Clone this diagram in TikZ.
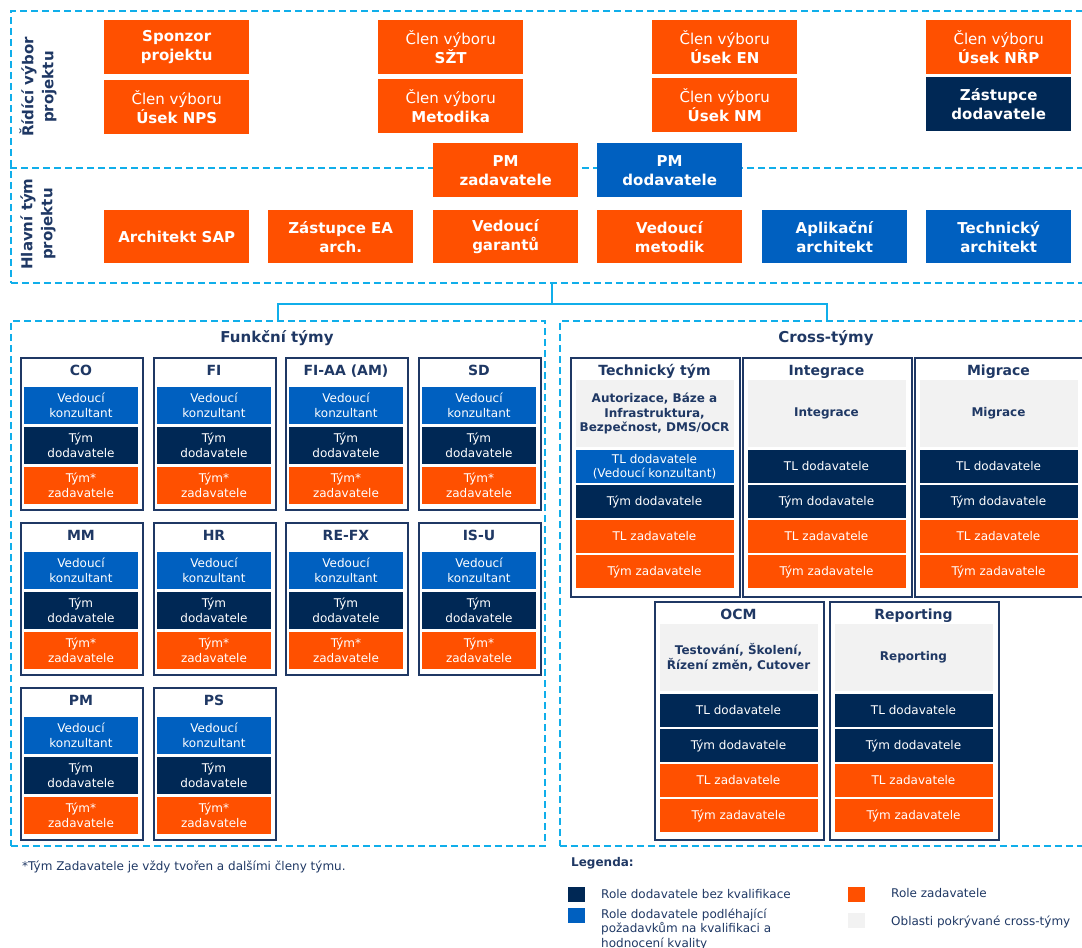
\documentclass[tikz,border=0pt]{standalone}
\usepackage{fontspec}
\setmainfont{DejaVu Sans}
\usetikzlibrary{calc}
\definecolor{cOr}{HTML}{FF5000}
\definecolor{cNavy}{HTML}{002855}
\definecolor{cBlue}{HTML}{0060C0}
\definecolor{cGray}{HTML}{F2F2F2}
\definecolor{cDash}{HTML}{10AEEA}
\definecolor{cBord}{HTML}{1F3864}
\definecolor{cText}{HTML}{1F3864}
\newcommand\fcard[4]{%
 \node[cardst, minimum width=122pt, minimum height=152pt] (#1) at (#2,#3) {};
 \node[ctitle, anchor=base] (#1-t) at (#2+61,#3+18) {#4};
 \node[fband, fill=cBlue] (#1-a) at (#2+61,#3+48.5) {Vedoucí\\konzultant};
 \node[fband, fill=cNavy] (#1-b) at (#2+61,#3+88.5) {Tým\\dodavatele};
 \node[fband, fill=cOr] (#1-c) at (#2+61,#3+128.5) {Tým*\\zadavatele};
}
\newcommand\ccard[8]{%
 \node[cardst, minimum width=169pt, minimum height=#8pt] (#1) at (#2,#3) {};
 \node[ctitle, anchor=base] (#1-t) at (#2+84.5,#3+18) {#4};
 \node[gband] (#1-g) at (#2+84.5,#3+56.5) {#5};
 \node[cband, fill=#6] (#1-a) at (#2+84.5,#3+109.5) {#7};
 \node[cband, fill=cNavy] (#1-b) at (#2+84.5,#3+144.5) {Tým dodavatele};
 \node[cband, fill=cOr] (#1-c) at (#2+84.5,#3+179.5) {TL zadavatele};
 \node[cband, fill=cOr] (#1-d) at (#2+84.5,#3+214.5) {Tým zadavatele};
}
\begin{document}
\begin{tikzpicture}[x=1pt,y=-1pt,
 box/.style={rectangle, inner sep=0pt, align=center, text=white, anchor=north west, minimum width=145pt, minimum height=54pt, font=\fontsize{15}{19}\selectfont},
 ob/.style={box, fill=cOr}, nb/.style={box, fill=cNavy}, bb/.style={box, fill=cBlue},
 dreg/.style={draw=cDash, line width=1.5pt, dash pattern=on 7pt off 4pt, rectangle, inner sep=0pt, anchor=north west},
 dln/.style={draw=cDash, line width=1.5pt, dash pattern=on 7pt off 4pt},
 conn/.style={draw=cDash, line width=2pt},
 sidelab/.style={rotate=90, align=center, text=cText, font=\bfseries\fontsize{15}{20}\selectfont},
 sectitle/.style={text=cText, font=\bfseries\fontsize{15}{18}\selectfont},
 cardst/.style={rectangle, draw=cBord, line width=2pt, fill=white, inner sep=0pt, anchor=north west},
 ctitle/.style={text=cText, font=\bfseries\fontsize{14}{17}\selectfont, inner sep=0pt},
 fband/.style={rectangle, inner sep=0pt, align=center, text=white, minimum width=114pt, minimum height=37pt, font=\fontsize{12}{15}\selectfont},
 cband/.style={rectangle, inner sep=0pt, align=center, text=white, minimum width=158pt, minimum height=33pt, font=\fontsize{12}{14}\selectfont},
 gband/.style={cband, fill=cGray, text=cText, minimum height=67pt, font=\bfseries\fontsize{12}{14.5}\selectfont},
 legsq/.style={rectangle, inner sep=0pt, minimum width=17pt, minimum height=15pt, anchor=north west},
 legtx/.style={anchor=base west, inner sep=0pt, text=cText, align=left, font=\fontsize{12}{14.5}\selectfont}
]
\useasboundingbox (0,0) rectangle (1082,948);
% regions
\node[dreg, minimum width=1082pt, minimum height=272pt] (topreg) at (10,10) {};
\coordinate (midL) at (10,168);
\coordinate (midR) at (1092,168);
\draw[dln] (midL) -- (midR);
\node[dreg, minimum width=534pt, minimum height=525pt] (func) at (10,320) {};
\node[dreg, minimum width=534pt, minimum height=525pt] (cross) at (559,320) {};
\draw[conn] (topreg.south) -- ++(0,20) coordinate (jn);
\draw[conn] (jn) -| (func.north);
\draw[conn] (jn) -| (cross.north);
% side labels
\node[sidelab] (lab1) at (38,87) {Řídící výbor\\projektu};
\node[sidelab] (lab2) at (38,224) {Hlavní tým\\projektu};
% steering committee
\node[ob] (spons) at (104,20) {\textbf{Sponzor}\\\textbf{projektu}};
\node[ob] (nps) at (104,80) {Člen výboru\\\textbf{Úsek NPS}};
\node[ob] (szt) at (378,20) {Člen výboru\\\textbf{SŽT}};
\node[ob] (metod) at (378,79) {Člen výboru\\\textbf{Metodika}};
\node[ob] (en) at (652,20) {Člen výboru\\\textbf{Úsek EN}};
\node[ob] (nm) at (652,78) {Člen výboru\\\textbf{Úsek NM}};
\node[ob] (nrp) at (926,20) {Člen výboru\\\textbf{Úsek NŘP}};
\node[nb] (zast) at (926,77) {\textbf{Zástupce}\\\textbf{dodavatele}};
\node[ob] (pmz) at (433,143) {\textbf{PM}\\\textbf{zadavatele}};
\node[bb] (pmd) at (597,143) {\textbf{PM}\\\textbf{dodavatele}};
% main team
\node[ob, minimum height=53pt] (asap) at (104,210) {\textbf{Architekt SAP}};
\node[ob, minimum height=53pt] (ea) at (268,210) {\textbf{Zástupce EA}\\\textbf{arch.}};
\node[ob, minimum height=53pt] (vg) at (433,210) {\textbf{Vedoucí}\\\textbf{garantů}};
\node[ob, minimum height=53pt] (vm) at (597,210) {\textbf{Vedoucí}\\\textbf{metodik}};
\node[bb, minimum height=53pt] (aa) at (762,210) {\textbf{Aplikační}\\\textbf{architekt}};
\node[bb, minimum height=53pt] (ta) at (926,210) {\textbf{Technický}\\\textbf{architekt}};
% section titles
\node[sectitle] (ft) at (277,338) {Funkční týmy};
\node[sectitle] (ct) at (826,338) {Cross-týmy};
% functional teams
\fcard{co}{20}{357}{CO}
\fcard{fi}{153}{357}{FI}
\fcard{fiaa}{285}{357}{FI-AA (AM)}
\fcard{sd}{418}{357}{SD}
\fcard{mm}{20}{522}{MM}
\fcard{hr}{153}{522}{HR}
\fcard{refx}{285}{522}{RE-FX}
\fcard{isu}{418}{522}{IS-U}
\fcard{pm}{20}{687}{PM}
\fcard{ps}{153}{687}{PS}
% cross teams
\ccard{tech}{570}{357}{Technický tým}{Autorizace, Báze a\\Infrastruktura,\\Bezpečnost, DMS/OCR}{cBlue}{TL dodavatele\\(Vedoucí konzultant)}{239}
\ccard{integ}{742}{357}{Integrace}{Integrace}{cNavy}{TL dodavatele}{239}
\ccard{migr}{914}{357}{Migrace}{Migrace}{cNavy}{TL dodavatele}{239}
\ccard{ocm}{654}{601}{OCM}{Testování, Školení,\\Řízení změn, Cutover}{cNavy}{TL dodavatele}{238}
\ccard{rep}{829}{601}{Reporting}{Reporting}{cNavy}{TL dodavatele}{238}
% footnote
\node[legtx] (foot) at (22,870.5) {*Tým Zadavatele je vždy tvořen a dalšími členy týmu.};
% legend
\node[legtx, font=\bfseries\fontsize{12}{14.5}\selectfont] (leg) at (571,866.5) {Legenda:};
\node[legsq, fill=cNavy] (lg1) at (568,887) {};
\node[legsq, fill=cBlue] (lg2) at (568,908) {};
\node[legsq, fill=cOr] (lg3) at (848,887) {};
\node[legsq, fill=cGray] (lg4) at (848,913) {};
\node[legtx] (lt1) at (601,898) {Role dodavatele bez kvalifikace};
\node[legtx, anchor=north west] (lt2) at (601,908.5) {Role dodavatele podléhající\\požadavkům na kvalifikaci a\\hodnocení kvality};
\node[legtx] (lt3) at (891,897.5) {Role zadavatele};
\node[legtx] (lt4) at (891,925.5) {Oblasti pokrývané cross-týmy};
\end{tikzpicture}
\end{document}
